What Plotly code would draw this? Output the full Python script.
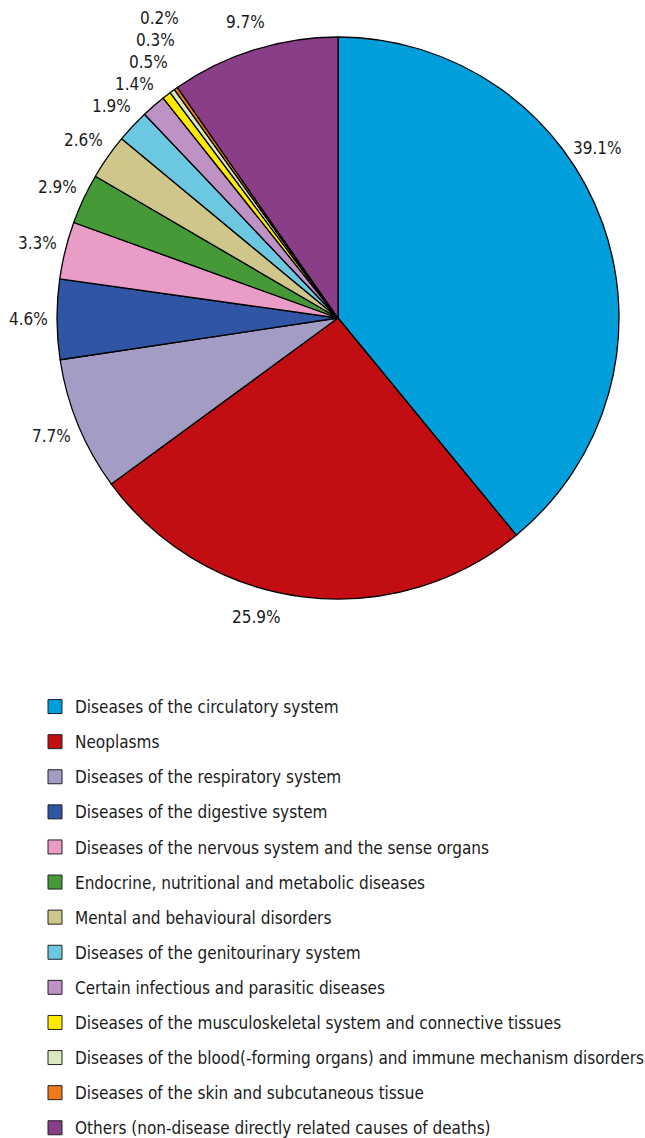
import math
import plotly.graph_objects as go

categories = [
    "Diseases of the circulatory system",
    "Neoplasms",
    "Diseases of the respiratory system",
    "Diseases of the digestive system",
    "Diseases of the nervous system and the sense organs",
    "Endocrine, nutritional and metabolic diseases",
    "Mental and behavioural disorders",
    "Diseases of the genitourinary system",
    "Certain infectious and parasitic diseases",
    "Diseases of the musculoskeletal system and connective tissues",
    "Diseases of the blood(-forming organs) and immune mechanism disorders",
    "Diseases of the skin and subcutaneous tissue",
    "Others (non-disease directly related causes of deaths)",
]
values = [39.1, 25.9, 7.7, 4.6, 3.3, 2.9, 2.6, 1.9, 1.4, 0.5, 0.3, 0.2, 9.7]
colors = ["#009EDB", "#C20E12", "#A39DC6", "#2F55A4", "#E99CC6", "#459A37",
          "#CEC68B", "#6CC8E0", "#BE92C5", "#FFEA00", "#D8E8C0", "#EE7A1A", "#8A3E87"]

FONT = "DejaVu Sans Condensed, Liberation Sans Narrow, sans-serif"
W, H = 645, 1138
CX, CY, R = 338, 318, 281          # pie centre / radius in pixels (layout)
LABEL_D = 310                       # label distance from centre
X_MAX, Y_MAX = CX + R, 617          # label area bounds
MIN_GAP = 22
LABEL_HALF_W = 22

fig = go.Figure()
fig.add_trace(go.Pie(
    labels=categories, values=values, sort=False, direction="clockwise",
    rotation=0,
    marker=dict(colors=colors, line=dict(color="black", width=1.3)),
    textinfo="none", showlegend=False, hoverinfo="label+value",
    domain=dict(x=[(CX - R) / W, (CX + R) / W], y=[1 - (CY + R) / H, 1 - (CY - R) / H]),
))


def polar(a):
    return CX + LABEL_D * math.sin(a), CY - LABEL_D * math.cos(a)


# percentage labels placed around the pie from the data
total = sum(values)
cum = 0.0
positions = []
for v in values:
    a = (cum + v / 2) / total * 2 * math.pi
    cum += v
    x, y = polar(a)
    if x > X_MAX - LABEL_HALF_W:
        s = math.asin((X_MAX - LABEL_HALF_W - CX) / LABEL_D)
        a = s if a < math.pi / 2 else math.pi - s
        x, y = polar(a)
    if y > Y_MAX:
        off = math.acos((Y_MAX - CY) / LABEL_D)
        a = math.pi + off if a >= math.pi else math.pi - off
        x, y = polar(a)
    if positions and x < CX and y < CY:
        px, py = positions[-1]
        if abs(x - px) < 2 * LABEL_HALF_W and y > py - MIN_GAP:
            y = py - MIN_GAP
    positions.append((x, y))

for v, (x, y) in zip(values, positions):
    fig.add_annotation(x=x / W, y=1 - y / H, xref="paper", yref="paper",
                       text=f"{v:.1f}%", showarrow=False,
                       xanchor="center", yanchor="middle",
                       font=dict(family=FONT, size=17, color="#1a1a1a"))

for i, (c, col) in enumerate(zip(categories, colors)):
    fig.add_trace(go.Scatter(
        x=[None], y=[None], mode="markers", name=c, legendgroup=f"g{i}",
        marker=dict(symbol="square", size=14, color=col, line=dict(color="#222", width=1)),
    ))

fig.update_layout(
    width=W, height=H,
    margin=dict(l=0, r=0, t=0, b=0, autoexpand=False),
    paper_bgcolor="white", plot_bgcolor="white",
    xaxis=dict(visible=False), yaxis=dict(visible=False),
    legend=dict(x=35 / W, y=1 - 689 / H, xanchor="left", yanchor="top",
                tracegroupgap=10, font=dict(family=FONT, size=17, color="#1a1a1a"),
                bgcolor="rgba(0,0,0,0)", itemclick=False),
    font=dict(family=FONT),
)

fig.write_html("out.html")
